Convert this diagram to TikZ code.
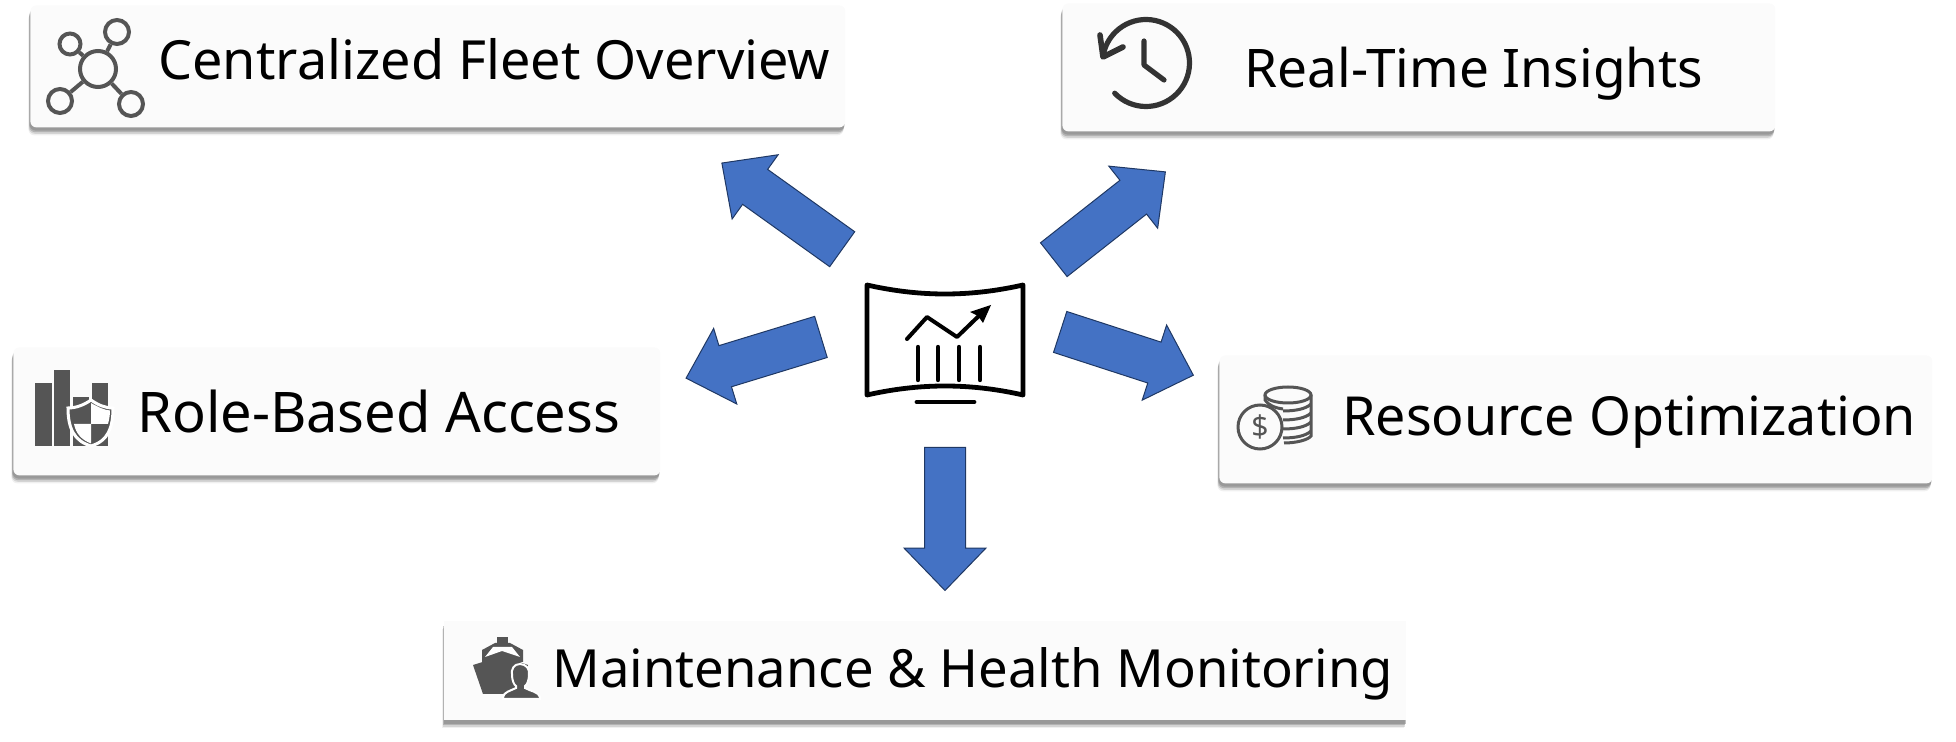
\documentclass[tikz,border=0pt]{standalone}
\usepackage{fontspec}
\setmainfont{Noto Sans}
\usetikzlibrary{shapes.arrows,shadows}
\definecolor{arrowblue}{HTML}{4472C4}
\definecolor{arrowline}{HTML}{1F3864}
\definecolor{boxfill}{HTML}{FBFBFB}
\definecolor{icongray}{HTML}{555555}
\definecolor{clockgray}{HTML}{333333}

\begin{document}
\begin{tikzpicture}[x=0.5pt,y=0.5pt]
\tikzstyle{every node}+=[inner sep=0pt]
\tikzstyle{cardbox}=[anchor=north west,fill=boxfill,rounded corners=3pt,
  drop shadow={shadow xshift=-1pt,shadow yshift=-4pt,opacity=.12},
  drop shadow={shadow xshift=-.8pt,shadow yshift=-3.2pt,opacity=.25},
  drop shadow={shadow xshift=-.6pt,shadow yshift=-2.4pt,opacity=.4},
  drop shadow={shadow xshift=-.4pt,shadow yshift=-1.6pt,opacity=.5}]
\tikzstyle{cardtext}=[anchor=base west,font=\fontsize{27}{32}\selectfont]
\tikzstyle{blockarrow}=[single arrow,anchor=tail,draw=arrowline,line width=.5pt,fill=arrowblue,
  single arrow tip angle=88,inner xsep=0pt,inner ysep=10.5pt,single arrow head extend=9pt]
\tikzstyle{ringline}=[draw=icongray,line width=2pt,circle]
\tikzstyle{hubline}=[black,line width=2.4pt,line cap=round,line join=round]
\useasboundingbox (0,0) rectangle (1956,-742);
% cards
\node [cardbox,minimum width=407.5pt,minimum height=61pt] (fleetbox) at (30,-5) {};
\node [cardbox,minimum width=356.5pt,minimum height=64pt] (timebox) at (1062,-3) {};
\node [cardbox,minimum width=323.5pt,minimum height=64pt] (rolebox) at (13,-347) {};
\node [cardbox,minimum width=356.5pt,minimum height=64pt] (costbox) at (1219,-355) {};
\node [cardbox,minimum width=481pt,minimum height=49.5pt,rounded corners=0pt] (carebox) at (444,-621) {};
\node [cardtext] (fleettext) at (158,-80) {Centralized Fleet Overview};
\node [cardtext,font=\fontsize{26.6}{32}\selectfont] (timetext) at (1244,-88) {Real-Time Insights};
\node [cardtext,font=\fontsize{28}{32}\selectfont] (roletext) at (137,-433) {Role-Based Access};
\node [cardtext,font=\fontsize{26.9}{32}\selectfont] (costtext) at (1342,-436) {Resource Optimization};
\node [cardtext,font=\fontsize{26.3}{32}\selectfont] (caretext) at (552,-688) {Maintenance \& Health Monitoring};
% arrows
\node [blockarrow,rotate=144.4,minimum height=74pt] (fleetarrow) at (842.6,-249.5) {};
\node [blockarrow,rotate=38.2,minimum height=71pt] (timearrow) at (1053.4,-260) {};
\node [blockarrow,rotate=197,minimum height=70.5pt] (rolearrow) at (821.4,-336.8) {};
\node [blockarrow,rotate=-18,minimum height=70pt] (costarrow) at (1059.7,-331.8) {};
\node [blockarrow,rotate=-90,minimum height=71.5pt,inner ysep=10pt,single arrow head extend=10.25pt] (carearrow) at (945,-447) {};
% hub screen
\draw [hubline] (867,-285) .. controls (920,-297) and (970,-297) .. (1023,-285) -- (1023,-395)
  .. controls (970,-383) and (920,-383) .. (867,-395) -- cycle;
\draw [hubline,line width=2pt] (907,-339) -- (927,-317) -- (957,-337) -- (985,-310);
\fill [black] (991,-305) -- (970,-312) -- (978,-316) -- (983,-323) -- cycle;
\foreach \barx in {918,938,959,980}
  \draw [hubline,line width=2.2pt] (\barx,-347) -- (\barx,-380);
\draw [hubline,line width=2.4pt] (917,-402) -- (974,-402);
% fleet icon
\node [ringline,minimum size=18pt] (hubring) at (98,-69) {};
\node [ringline,minimum size=10.5pt] (ringa) at (70,-44) {};
\node [ringline,minimum size=12pt] (ringb) at (117,-32) {};
\node [ringline,minimum size=12pt] (ringc) at (60,-101) {};
\node [ringline,minimum size=12pt] (ringd) at (131,-104) {};
\draw [icongray,line width=2pt] (hubring) -- (ringa);
\draw [icongray,line width=2pt] (hubring) -- (ringb);
\draw [icongray,line width=2pt] (hubring) -- (ringc);
\draw [icongray,line width=2pt] (hubring) -- (ringd);
% clock icon
\draw [clockgray,line width=2.6pt,line cap=round] (1146,-63)++(224:43.5) arc (224:530:43.5);
\draw [clockgray,line width=2.8pt,line cap=round,line join=round] (1100,-35) -- (1103,-57) -- (1123,-47);
\draw [clockgray,line width=2.6pt,line cap=round,line join=round] (1144,-41) -- (1144,-65) -- (1164,-80);
% role icon
\fill [icongray] (35,-383) rectangle (52,-446);
\fill [icongray] (54,-370) rectangle (70,-446);
\fill [icongray] (73,-397) rectangle (89,-446);
\fill [icongray] (92,-383) rectangle (108,-446);
\draw [white,fill=icongray,line width=1.5pt] (91,-400) .. controls (84,-405) and (76,-408) .. (68,-408)
  .. controls (68,-428) and (74,-441) .. (91,-446) .. controls (108,-441) and (113,-428) .. (113,-408)
  .. controls (105,-408) and (98,-405) .. (91,-400) -- cycle;
\fill [white] (91,-403) .. controls (98,-407) and (104,-410) .. (110,-410.500) .. controls (110,-416) and (109,-420) .. (108,-424) -- (91,-424) -- cycle;
\fill [white] (91,-424) -- (74,-424) .. controls (76,-434) and (82,-440) .. (91,-443.500) -- cycle;
% coin icon
\draw [icongray,line width=1.5pt] (1288,-395) ellipse (23 and 8);
\draw [icongray,line width=1.5pt] (1265,-395) -- (1265,-400) .. controls (1268,-405) and (1275,-408) .. (1283,-409);
\draw [icongray,line width=1.5pt] (1311,-395) -- (1311,-436) .. controls (1308,-440) and (1296,-443) .. (1284,-443);
\foreach \coiny in {-408,-417,-426,-435}
  \draw [icongray,line width=1.5pt] (1311,\coiny+4) .. controls (1306,\coiny-1) and (1295,\coiny-3) .. (1283,\coiny-3);
\node [ringline,line width=1.5pt,minimum size=22pt] (coinring) at (1260,-427) {};
\node [text=icongray,font=\fontsize{15}{15}\selectfont] (coinsign) at (coinring) {\$};
% ship icon
\fill [icongray] (497,-644) -- (497,-637) -- (508,-637) -- (508,-644) -- cycle;
\fill [icongray] (482,-662) -- (482,-650) -- (495,-643) -- (510,-643) -- (523,-650) -- (523,-662) -- cycle;
\fill [white] (485,-657) -- (493,-647) -- (512,-647) -- (520,-657) -- (502,-651) -- cycle;
\fill [icongray] (473,-665) -- (502,-656) -- (528,-665) -- (520,-694) -- (483,-694) -- cycle;
\draw [white,fill=icongray,line width=1pt] (520,-664) .. controls (514,-664) and (511,-669) .. (512,-675)
  .. controls (512,-680) and (514,-685) .. (516,-686) -- (516,-688) .. controls (510,-691) and (504,-692) .. (503,-697)
  -- (503,-699) -- (540,-699) -- (540,-697) .. controls (539,-692) and (530,-691) .. (525,-688) -- (525,-686)
  .. controls (527,-685) and (529,-680) .. (529,-675) .. controls (530,-669) and (526,-664) .. (520,-664) -- cycle;
\end{tikzpicture}
\end{document}
